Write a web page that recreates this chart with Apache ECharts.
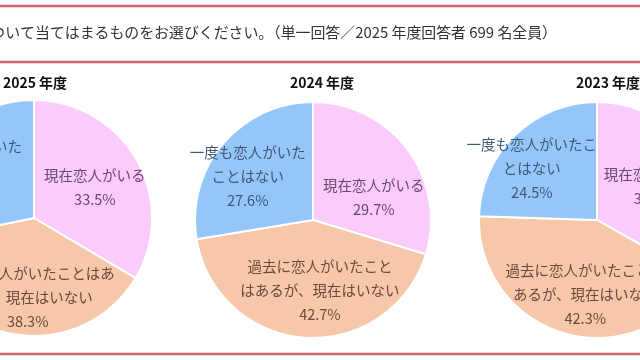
<!DOCTYPE html>
<html>
<head>
<meta charset="utf-8">
<script src="https://cdn.jsdelivr.net/npm/echarts@6/dist/echarts.min.js"></script>
<style>
html,body{margin:0;padding:0;background:#fff;}
#chart{width:640px;height:360px;}
</style>
</head>
<body>
<div id="chart"></div>
<script>
// ---- data ----
const categories = ['現在恋人がいる', '過去に恋人がいたことはあるが、現在はいない', '一度も恋人がいたことはない'];
const years = ['2025 年度', '2024 年度', '2023 年度'];
const values2025 = [33.5, 38.3, 28.2];
const values2024 = [29.7, 42.7, 27.6];
const values2023 = [33.2, 42.3, 24.5];
const labels2025 = ['現在恋人がいる', '過去に恋人がいたことはあ\nるが、現在はいない', '一度も恋人がいた\nことはない'];
const labels2024 = ['現在恋人がいる', '過去に恋人がいたこと\nはあるが、現在はいない', '一度も恋人がいた\nことはない'];
const labels2023 = ['現在恋人がいる', '過去に恋人がいたことは\nあるが、現在はいない', '一度も恋人がいたこ\nとはない'];
const headerText = '恋愛状況について当てはまるものをお選びください。（単一回答／2025 年度回答者 699 名全員）';

// ---- styles ----
const FONT = '"Noto Sans CJK JP", "Noto Sans", sans-serif';
const sliceColors = ['#FACBFB', '#F6C7A8', '#95C6FA'];
const textColors = ['#6c476c', '#6b4a3c', '#3f5878'];
const pieLayout = [
  { center: [34, 218], offsets: [[7, 0], [4, 18], [-22, -8]] },
  { center: [313, 220], offsets: [[11, 14], [11, 9], [-18, -3]] },
  { center: [597, 220], offsets: [[4, -2], [5, 15], [-22, -7]] }
];
const titleX = [30, 317, 603];
const allValues = [values2025, values2024, values2023];
const allLabels = [labels2025, labels2024, labels2023];

const series = allValues.map((vals, p) => ({
  type: 'pie',
  radius: 118,
  center: pieLayout[p].center,
  startAngle: 90,
  clockwise: true,
  silent: true,
  animation: false,
  itemStyle: { borderColor: '#ffffff', borderWidth: 2 },
  label: {
    show: true,
    position: 'inside',
    fontFamily: FONT,
    fontSize: 14.5,
    lineHeight: 24,
    align: 'center'
  },
  labelLine: { show: false },
  data: vals.map((v, i) => ({
    name: categories[i],
    value: v,
    itemStyle: { color: sliceColors[i] },
    label: {
      color: textColors[i],
      offset: pieLayout[p].offsets[i],
      formatter: () => allLabels[p][i] + '\n' + v.toFixed(1) + '%'
    }
  }))
}));

const titles = years.map((y, i) => ({
  text: y,
  left: titleX[i],
  top: 71,
  textAlign: 'center',
  textStyle: { fontFamily: FONT, fontSize: 14, fontWeight: 'bold', color: '#111' }
}));

function hline(y) {
  return [
    { type: 'line', shape: { x1: 0, y1: y, x2: 640, y2: y }, style: { stroke: '#eaa3a3', lineWidth: 3 }, silent: true },
    { type: 'line', shape: { x1: 0, y1: y, x2: 640, y2: y }, style: { stroke: '#a23c3c', lineWidth: 1 }, silent: true }
  ];
}

const chart = echarts.init(document.getElementById('chart'), null, { renderer: 'canvas' });
chart.setOption({
  animation: false,
  backgroundColor: '#ffffff',
  title: titles,
  graphic: [
    ...hline(6), ...hline(62), ...hline(354),
    {
      type: 'text',
      x: 557,
      y: 32,
      style: { text: headerText, fontFamily: FONT, fontSize: 14.9, fill: '#333', textAlign: 'right', textVerticalAlign: 'middle' },
      silent: true
    }
  ],
  series: series
});
</script>
</body>
</html>
